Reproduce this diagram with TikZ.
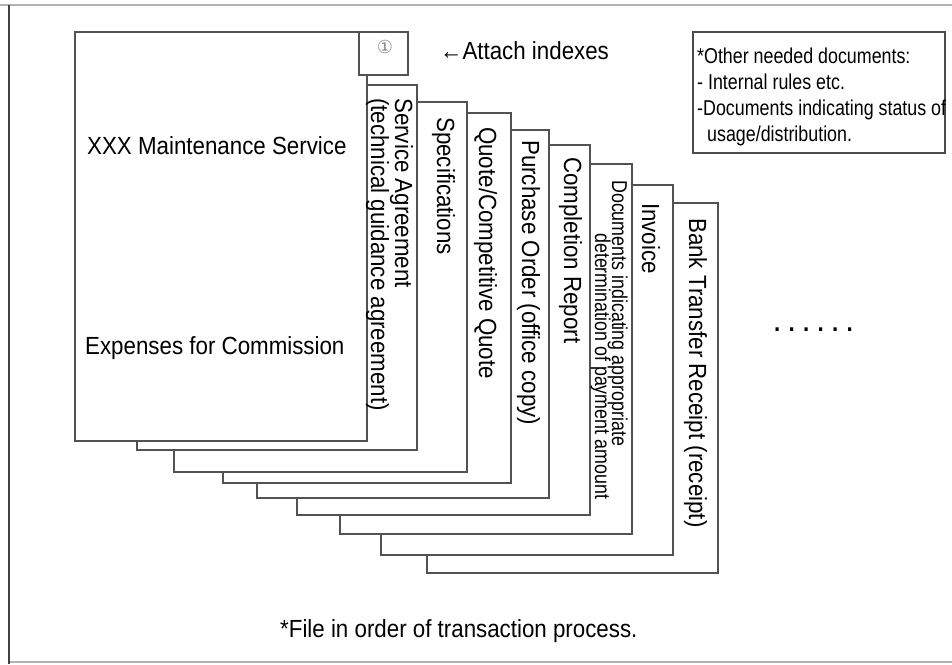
\documentclass[tikz,border=0pt]{standalone}
\usepackage{fontspec}
\setmainfont{Liberation Sans}
\newfontfamily\mfont{Liberation Sans}[FakeStretch=0.9]
\newfontfamily\sfont{Liberation Sans}[FakeStretch=0.83]
\newfontfamily\symfont{DejaVu Sans}
\begin{document}
\begin{tikzpicture}[x=1pt,y=-1pt]
\tikzset{
  sheet/.style={draw=black!68, line width=1.8pt, fill=white},
  boxline/.style={draw=black!70, line width=2pt, fill=white},
  lbl/.style={font=\mfont\fontsize{24.8}{26}\selectfont, inner sep=0pt, anchor=base west},
  vlbl/.style={lbl, rotate=-90},
  slbl/.style={font=\sfont\fontsize{21.5}{22}\selectfont, inner sep=0pt, anchor=base west},
  vslbl/.style={slbl, rotate=-90},
}
\useasboundingbox (0,0) rectangle (952,664);
% outer frame
\draw[black!30, line width=2pt] (0,5) -- (952,5);
\draw[black!30, line width=2pt] (9,662) -- (952,662);
\draw[black!75, line width=2pt] (9,5) -- (9,664);
% sheets, back to front
\draw[sheet] (427,203) rectangle (718,573);
\draw[sheet] (381,185) rectangle (673,555);
\draw[sheet] (340,164) rectangle (632,534);
\draw[sheet] (297,145) rectangle (590,515);
\draw[sheet] (257,130) rectangle (549,498);
\draw[sheet] (223,113) rectangle (511,483);
\draw[sheet] (174,102) rectangle (467,472);
\draw[sheet] (137,85) rectangle (417,450);
\draw[sheet] (75,32) rectangle (367,441);
\draw[sheet] (359,32) rectangle (408,75);
% texts
\node[font=\symfont\fontsize{18}{18}\selectfont, text=black!45, inner sep=0pt] (idx) at (385,47) {①};
\node[lbl] (t1) at (87,154) {XXX Maintenance Service};
\node[lbl] (t2) at (85,354) {Expenses for Commission};
\node[lbl] (att) at (440,59) {←Attach indexes};
\node[vlbl] (s2a) at (395,98) {Service Agreement};
\node[vlbl] (s2b) at (371,98) {(technical guidance agreement)};
\node[vlbl] (s3) at (437,117) {Specifications};
\node[vlbl] (s4) at (479,127) {Quote/Competitive Quote};
\node[vlbl] (s5) at (522,140) {Purchase Order (office copy)};
\node[vlbl] (s6) at (564,157) {Completion Report};
\node[vslbl] (s7a) at (612,180) {Documents indicating appropriate};
\node[vslbl] (s7b) at (595,233) {determination of payment amount};
\node[vlbl] (s8) at (642,203) {Invoice};
\node[vlbl] (s9) at (689,218) {Bank Transfer Receipt (receipt)};
\node[lbl, font=\mfont\bfseries\fontsize{24.8}{26}\selectfont] (dots) at (774,331) {. . . . . .};
\node[lbl] (foot) at (280,637) {*File in order of transaction process.};
% side box
\draw[boxline] (693,32) rectangle (945,153);
\node[slbl] (b1) at (697,63) {*Other needed documents:};
\node[slbl] (b2) at (697,89) {- Internal rules etc.};
\node[slbl] (b3) at (697,115) {-Documents indicating status of};
\node[slbl] (b4) at (707,141) {usage/distribution.};
\end{tikzpicture}
\end{document}
